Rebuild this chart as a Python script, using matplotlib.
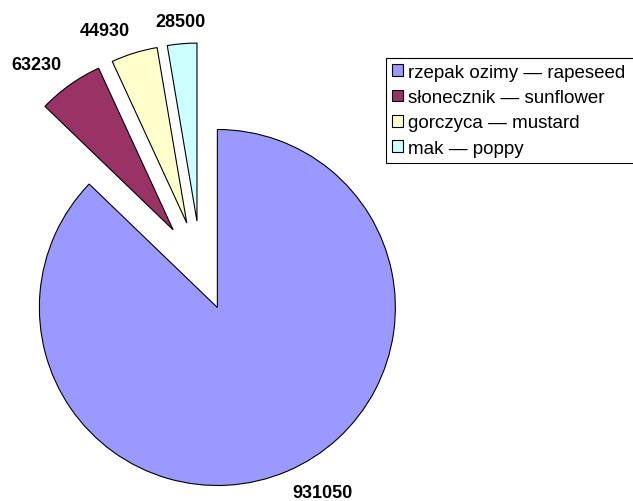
import matplotlib.pyplot as plt
import numpy as np

plt.rcParams['font.family'] = ['Liberation Sans', 'DejaVu Sans']

# crop areas
crops = ['rzepak ozimy — rapeseed', 'słonecznik — sunflower',
         'gorczyca — mustard', 'mak — poppy']
values = [931050, 63230, 44930, 28500]

colors = ['#9999FF', '#993366', '#FFFFCC', '#CCFFFF']
explode = [0.235, 0.27, 0.27, 0.27]

R_PX = 178.  # pie radius in pixels
CX, CY = 201., 232.  # pie centre in pixels from lower left

fig = plt.figure(figsize=(6.33, 5.02), dpi=100)
ax = fig.add_axes([0, 0, 1, 1])

wedges, texts = ax.pie(values, labels=[str(v) for v in values], colors=colors,
                       explode=explode, startangle=90, counterclock=False,
                       labeldistance=1.08,
                       wedgeprops=dict(edgecolor='black', linewidth=0.8),
                       textprops=dict(fontsize=13, fontweight='bold'))

# excel-like label anchoring: box corner touches the point
for w, t in zip(wedges, texts):
    x, y = t.get_position()
    t.set_va('bottom' if y > 0 else 'top')
    thm = np.deg2rad((w.theta1 + w.theta2) / 2)
    if abs(np.cos(thm)) < 0.15:
        t.set_ha('center')

ax.set_xlim(-CX / R_PX, (633 - CX) / R_PX)
ax.set_ylim(-CY / R_PX, (502 - CY) / R_PX)
ax.set_aspect('auto')
ax.axis('off')

# legend box runs off the right edge like in the original
leg = ax.legend(wedges, crops, loc='upper left',
                bbox_to_anchor=(386 / 633, 1 - 59 / 502, 262 / 633, 0), mode='expand',
                bbox_transform=fig.transFigure, fontsize=13.5, frameon=True, fancybox=False,
                edgecolor='black', framealpha=1, borderpad=0.3, labelspacing=0.45,
                handlelength=0.6, handleheight=0.6, handletextpad=0.25, borderaxespad=0)
leg.get_frame().set_linewidth(0.8)
for h in leg.legend_handles:
    h.set_linewidth(0.8)

fig.savefig('out.png', dpi=100)
